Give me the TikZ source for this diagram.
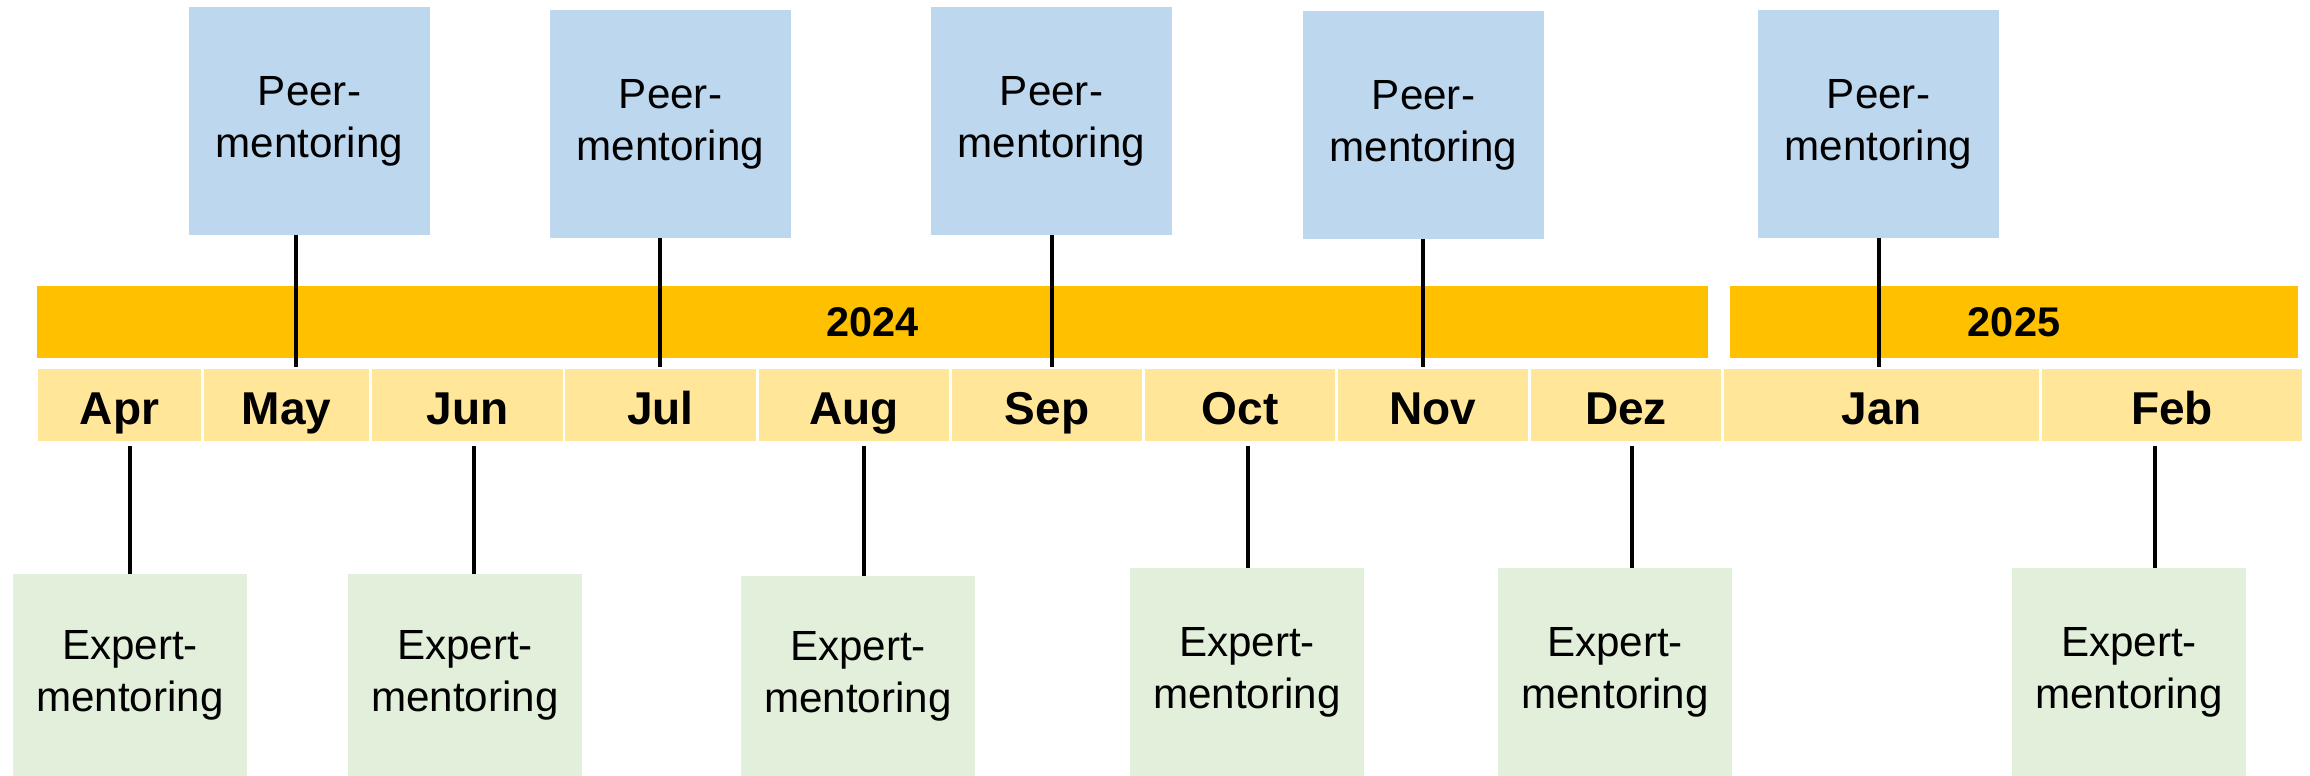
\documentclass[tikz,border=0pt]{standalone}
\usepackage{fontspec}
\setmainfont{Liberation Sans}
\usepackage{xcolor}
\usepackage{tikz}
\usetikzlibrary{positioning}
\definecolor{YearGold}{HTML}{FFC000}
\definecolor{MonthSand}{HTML}{FFE699}
\definecolor{PeerBlue}{HTML}{BDD7EE}
\definecolor{ExpertGreen}{HTML}{E2EFDA}

\begin{document}
\begin{tikzpicture}[x=0.1mm, y=-0.1mm,
  every node/.style={inner sep=0pt, outer sep=0pt, align=center},
  yearbar/.style={fill=YearGold, minimum height=0.72cm, font=\fontsize{11.8}{14}\selectfont\bfseries},
  month/.style={fill=MonthSand, minimum height=0.72cm, text height=0.46cm, text depth=0.08cm, font=\fontsize{13.1}{15}\selectfont\bfseries},
  peerbox/.style={fill=PeerBlue, minimum width=2.41cm, minimum height=2.28cm, font=\fontsize{12}{14.8}\selectfont, execute at begin node={\rule{0pt}{0.42cm}}},
  expertbox/.style={fill=ExpertGreen, minimum width=2.34cm, font=\fontsize{12}{14.8}\selectfont, execute at begin node={\rule{0pt}{0.44cm}}},
  tick/.style={line width=0.9pt, black}]

\useasboundingbox (0,0) rectangle (2310,776);

% Year bars
\node[yearbar, minimum width=16.71cm] (y24) at (872.5,322) {2024};
\node[yearbar, minimum width=5.68cm] (y25) at (2014,322) {2025};

% Month row
\node[month, minimum width=1.63cm] (apr) at (119.5,405) {Apr};
\node[month, minimum width=1.65cm] (may) at (286.5,405) {May};
\node[month, minimum width=1.91cm] (jun) at (467.5,405) {Jun};
\node[month, minimum width=1.91cm] (jul) at (660.5,405) {Jul};
\node[month, minimum width=1.90cm] (aug) at (854,405) {Aug};
\node[month, minimum width=1.90cm] (sep) at (1047,405) {Sep};
\node[month, minimum width=1.90cm] (oct) at (1240,405) {Oct};
\node[month, minimum width=1.90cm] (nov) at (1433,405) {Nov};
\node[month, minimum width=1.90cm] (dez) at (1626,405) {Dez};
\node[month, minimum width=3.15cm] (jan) at (1881.5,405) {Jan};
\node[month, minimum width=2.60cm] (feb) at (2172,405) {Feb};

% Peer-mentoring boxes above
\node[peerbox] (p1) at (309.5,121) {Peer-\\mentoring};
\node[peerbox] (p2) at (670.5,124) {Peer-\\mentoring};
\node[peerbox] (p3) at (1051.5,121) {Peer-\\mentoring};
\node[peerbox] (p4) at (1423.5,125) {Peer-\\mentoring};
\node[peerbox] (p5) at (1878.5,124) {Peer-\\mentoring};

% Expert-mentoring boxes below
\node[expertbox, minimum height=2.02cm] (e1) at (130,675) {Expert-\\mentoring};
\node[expertbox, minimum height=2.02cm] (e2) at (465,675) {Expert-\\mentoring};
\node[expertbox, minimum height=2.00cm] (e3) at (858,676) {Expert-\\mentoring};
\node[expertbox, minimum height=2.08cm] (e4) at (1247,672) {Expert-\\mentoring};
\node[expertbox, minimum height=2.08cm] (e5) at (1615,672) {Expert-\\mentoring};
\node[expertbox, minimum height=2.08cm] (e6) at (2129,672) {Expert-\\mentoring};

% Tick points on the month row
\coordinate (tmay) at (296,367);
\coordinate (tjul) at (660,367);
\coordinate (tsep) at (1052,367);
\coordinate (tnov) at (1423,367);
\coordinate (tjan) at (1879,367);
\coordinate (tapr) at (130,446);
\coordinate (tjun) at (474,446);
\coordinate (taug) at (864,446);
\coordinate (toct) at (1248,446);
\coordinate (tdez) at (1632,446);
\coordinate (tfeb) at (2155,446);

% Lines from peer boxes down to the months
\draw[tick] (p1.south -| tmay) -- (tmay);
\draw[tick] (p2.south -| tjul) -- (tjul);
\draw[tick] (p3.south -| tsep) -- (tsep);
\draw[tick] (p4.south -| tnov) -- (tnov);
\draw[tick] (p5.south -| tjan) -- (tjan);

% Lines from the months down to expert boxes
\draw[tick] (tapr) -- (tapr |- e1.north);
\draw[tick] (tjun) -- (tjun |- e2.north);
\draw[tick] (taug) -- (taug |- e3.north);
\draw[tick] (toct) -- (toct |- e4.north);
\draw[tick] (tdez) -- (tdez |- e5.north);
\draw[tick] (tfeb) -- (tfeb |- e6.north);
\end{tikzpicture}
\end{document}
